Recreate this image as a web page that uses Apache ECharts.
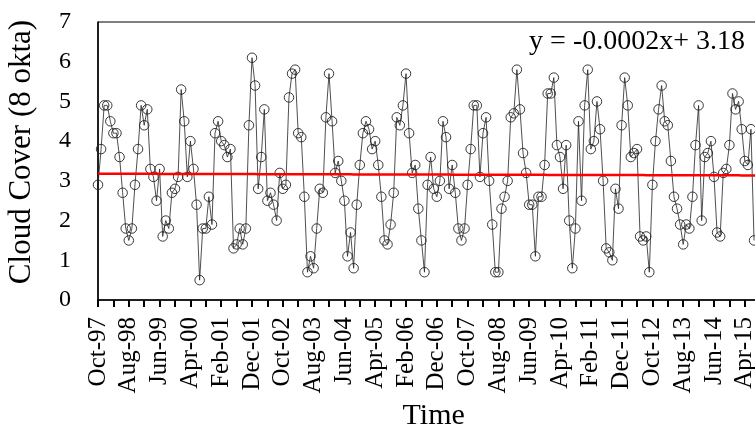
<!DOCTYPE html>
<html>
<head>
<meta charset="utf-8">
<script src="https://cdn.jsdelivr.net/npm/echarts@6/dist/echarts.min.js"></script>
<style>html,body{margin:0;padding:0;background:#fff;}#c{width:755px;height:429px;}</style>
</head>
<body>
<div id="c"></div>
<script>
// Monthly cloud cover (okta), starting Oct-97
const startYear = 1997, startMonth = 9; // October (0-based)
const totalMonths = 219; // Oct-97 .. Dec-15 (plot continues beyond picture)
const monthNames = ['Jan','Feb','Mar','Apr','May','Jun','Jul','Aug','Sep','Oct','Nov','Dec'];
const cloudCover = [
 2.9,3.8,4.9,4.9,4.5,4.2,4.2,3.6,2.7,1.8,1.5,1.8,2.9,3.8,4.9,4.4,4.8,3.3,3.1,2.5,
 3.3,1.6,2.0,1.8,2.7,2.8,3.1,5.3,4.5,3.1,4.0,3.3,2.4,0.5,1.8,1.8,2.6,1.9,4.2,4.5,
 4.0,3.9,3.6,3.8,1.3,1.4,1.8,1.4,1.8,4.4,6.1,5.4,2.8,3.6,4.8,2.5,2.7,2.4,2.0,3.2,
 2.8,2.9,5.1,5.7,5.8,4.2,4.1,2.6,0.7,1.1,0.8,1.8,2.8,2.7,4.6,5.7,4.5,3.2,3.5,3.0,
 2.5,1.1,1.7,0.8,2.4,3.4,4.2,4.5,4.3,3.8,4.0,3.4,2.6,1.5,1.4,1.9,2.7,4.6,4.4,4.9,
 5.7,4.2,3.2,3.4,2.3,1.5,0.7,2.9,3.6,2.8,2.6,3.0,4.5,4.1,2.8,3.4,2.7,1.8,1.5,1.8,
 2.9,3.8,4.9,4.9,3.1,4.2,4.6,3.0,1.9,0.7,0.7,2.3,2.6,3.0,4.6,4.7,5.8,4.8,3.7,3.2,
 2.4,2.4,1.1,2.6,2.6,3.4,5.2,5.2,5.6,3.9,3.6,2.8,3.9,2.0,0.8,1.8,4.5,2.5,4.9,5.8,
 3.8,4.0,5.0,4.3,3.0,1.3,1.2,1.0,2.8,2.3,4.4,5.6,4.9,3.6,3.7,3.8,1.6,1.5,1.6,0.7,
 2.9,4.0,4.8,5.4,4.5,4.4,3.5,2.6,2.3,1.9,1.4,1.9,1.8,2.6,3.9,4.9,2.0,3.6,3.7,4.0,
 3.1,1.7,1.6,3.2,3.3,3.9,5.2,4.8,5.0,4.3,3.5,3.4,4.3,1.5
];
const yTicks = [0,1,2,3,4,5,6,7];
const trendSlope = -0.0002, trendIntercept = 3.18;
const equationText = 'y = -0.0002x+ 3.18';
const yTitle = 'Cloud Cover (8 okta)';
const xTitle = 'Time';

const categories = [];
for (let i = 0; i < totalMonths; i++) {
  const m = (startMonth + i) % 12;
  const y = startYear + Math.floor((startMonth + i) / 12);
  categories.push(monthNames[m] + '-' + String(y % 100).padStart(2, '0'));
}
const seriesData = categories.map((c, i) => i < cloudCover.length ? cloudCover[i] : null);
const trendData = categories.map((c, i) => +(trendSlope * (i + 1) + trendIntercept).toFixed(4));

const FONT = 'Liberation Serif';
const chart = echarts.init(document.getElementById('c'), null, {renderer: 'canvas'});
const monthPx = 3.08;
const gridLeft = 98;
const gridWidth = (totalMonths - 1) * monthPx;
chart.setOption({
  animation: false,
  backgroundColor: '#fff',
  grid: {left: gridLeft, top: 22, width: gridWidth, height: 278, containLabel: false, outerBoundsMode: 'none',
         show: true, borderColor: '#000', borderWidth: 1, backgroundColor: '#fff'},
  xAxis: {
    type: 'category', data: categories, boundaryGap: false,
    name: xTitle, nameLocation: 'middle', nameGap: 101,
    nameTextStyle: {fontFamily: FONT, fontSize: 30, color: '#000'},
    axisLine: {lineStyle: {color: '#000', width: 1.5}},
    axisTick: {show: true, interval: 4, length: 7, inside: false, lineStyle: {color: '#000', width: 2}},
    axisLabel: {interval: 9, rotate: 90, fontFamily: FONT, fontSize: 25, color: '#000', margin: 17},
    splitLine: {show: false}
  },
  yAxis: {
    type: 'value', min: yTicks[0], max: yTicks[yTicks.length - 1], interval: 1,
    axisLine: {show: true, lineStyle: {color: '#000', width: 1.5}},
    axisTick: {show: false},
    axisLabel: {fontFamily: FONT, fontSize: 24, color: '#000', margin: 27},
    splitLine: {show: false}
  },
  series: [
    {
      type: 'line', data: seriesData, symbol: 'circle', symbolSize: 9.5,
      showAllSymbol: true,
      lineStyle: {color: '#222', width: 0.8},
      itemStyle: {color: 'rgba(255,255,255,0)', borderColor: '#222', borderWidth: 0.9},
      emphasis: {disabled: true}, z: 3
    },
    {
      type: 'line', data: trendData, symbol: 'none',
      lineStyle: {color: '#ff0000', width: 2.5}, z: 4, silent: true
    }
  ],
  graphic: [
    {
      type: 'text', right: 10, top: 28,
      style: {text: equationText, fontFamily: FONT, fontSize: 28, fill: '#000'}
    },
    {
      type: 'text', x: 22, y: 152, rotation: Math.PI / 2,
      style: {text: yTitle, fontFamily: FONT, fontSize: 31, fill: '#000', align: 'center', verticalAlign: 'middle'}
    }
  ]
});
</script>
</body>
</html>
